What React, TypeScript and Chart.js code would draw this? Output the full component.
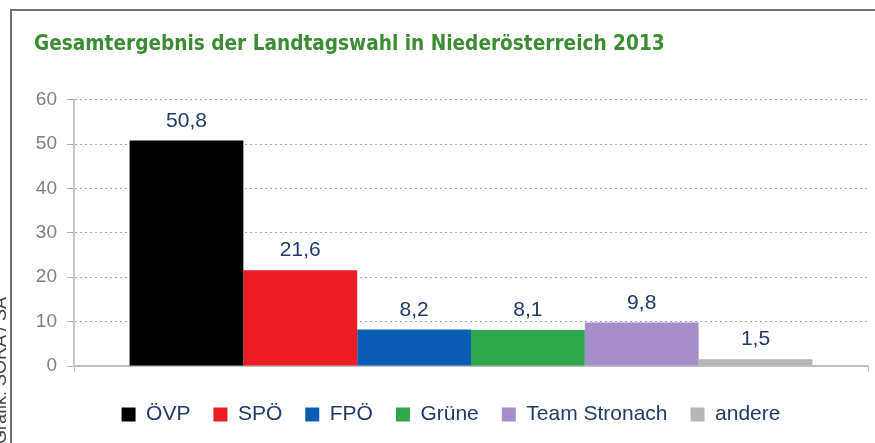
import React, { useEffect, useRef } from 'react';
import { Chart, registerables } from 'chart.js';

Chart.register(...registerables);

const titleText = 'Gesamtergebnis der Landtagswahl in Niederösterreich 2013';
const creditText = 'Grafik: SORA / SA';
const categories = [''];
const parties = ['ÖVP', 'SPÖ', 'FPÖ', 'Grüne', 'Team Stronach', 'andere'];
const values = [50.8, 21.6, 8.2, 8.1, 9.8, 1.5];
const colors = ['#000000', '#ec1c24', '#0b5db3', '#2ea64b', '#a68fc9', '#b3b7ba'];
const yMin = 0;
const yMax = 60;
const yStep = 10;

const labelColor = '#213a68';
const textFont = '"Liberation Sans", Arial, sans-serif';

const valueLabels = {
  id: 'valueLabels',
  afterDatasetsDraw(chart: any) {
    const ctx = chart.ctx;
    ctx.save();
    ctx.font = `21px ${textFont}`;
    ctx.fillStyle = labelColor;
    ctx.textAlign = 'center';
    ctx.textBaseline = 'alphabetic';
    chart.data.datasets.forEach((ds: any, i: number) => {
      const meta = chart.getDatasetMeta(i);
      meta.data.forEach((bar: any, j: number) => {
        const v = ds.data[j];
        ctx.fillText(v.toFixed(1).replace('.', ','), bar.x, bar.y - 14);
      });
    });
    ctx.restore();
  },
};

export default function App() {
  const canvasRef = useRef<HTMLCanvasElement | null>(null);

  useEffect(() => {
    if (!canvasRef.current) return;
    const chart = new Chart(canvasRef.current, {
      type: 'bar',
      data: {
        labels: categories,
        datasets: parties.map((p, i) => ({
          label: p,
          data: [values[i]],
          backgroundColor: colors[i],
          borderWidth: 0,
          categoryPercentage: 0.86,
          barPercentage: 1.0,
        })),
      },
      options: {
        responsive: false,
        animation: false,
        devicePixelRatio: 1,
        layout: { padding: { left: 34, right: 7, top: 0, bottom: 8 } },
        plugins: {
          title: {
            display: true,
            text: titleText,
            align: 'start',
            color: '#3c8c34',
            font: { family: '"DejaVu Sans Condensed", "DejaVu Sans", sans-serif', weight: 'bold', size: 20.6, lineHeight: 1.2 },
            padding: { top: 32, bottom: 43 },
          },
          legend: {
            display: true,
            position: 'bottom',
            align: 'center',
            labels: {
              boxWidth: 14,
              boxHeight: 14,
              padding: 23,
              color: labelColor,
              font: { family: textFont, size: 21 },
            },
          },
          tooltip: { enabled: false },
        },
        scales: {
          x: {
            offset: true,
            grid: {
              display: true,
              drawOnChartArea: false,
              drawTicks: true,
              tickLength: 6,
              color: '#c0c0c0',
              offset: true,
            },
            ticks: { display: false },
            border: { display: true, color: '#c0c0c0', width: 2 },
            afterFit: (scale: any) => {
              scale.height = 15;
            },
          },
          y: {
            min: yMin,
            max: yMax,
            ticks: {
              stepSize: yStep,
              color: '#808080',
              font: { family: textFont, size: 19 },
              padding: 10,
            },
            grid: {
              color: '#a8a8a8',
              lineWidth: 1,
              tickLength: 7,
              tickColor: '#b0b0b0',
              tickBorderDash: [],
            },
            border: { display: true, color: '#c8c8c8', width: 2, dash: [2, 3] },
            afterFit: (scale: any) => {
              scale.width = 40;
            },
          },
        },
      },
      plugins: [valueLabels],
    } as any);
    return () => chart.destroy();
  }, []);

  return (
    <div
      style={{
        position: 'absolute',
        left: 0,
        top: 0,
        width: 875,
        height: 443,
        overflow: 'hidden',
        background: '#ffffff',
      }}
    >
      <canvas ref={canvasRef} width={875} height={443} style={{ position: 'absolute', left: 0, top: 0 }} />
      <div
        style={{
          position: 'absolute',
          left: 10,
          top: 9,
          width: 900,
          height: 500,
          borderTop: '2px solid #707070',
          borderLeft: '2px solid #707070',
          pointerEvents: 'none',
        }}
      />
      <div
        style={{
          position: 'absolute',
          left: -9,
          top: 444,
          height: 18,
          lineHeight: '18px',
          whiteSpace: 'nowrap',
          transformOrigin: 'left top',
          transform: 'rotate(-90deg)',
          fontFamily: textFont,
          fontSize: 18,
          color: '#444',
        }}
      >
        {creditText}
      </div>
    </div>
  );
}
